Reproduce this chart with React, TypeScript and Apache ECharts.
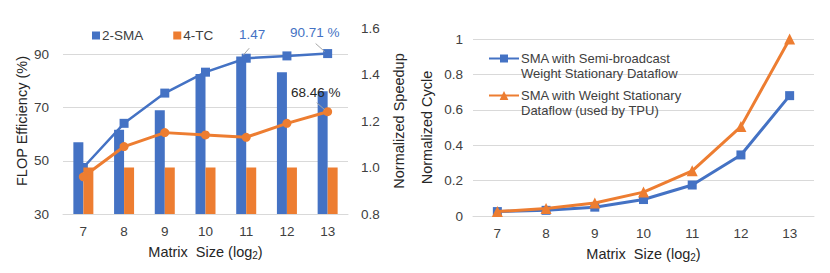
import React, { useEffect, useRef } from "react";
import * as echarts from "echarts";

// ---------- data ----------
const categories = ["7", "8", "9", "10", "11", "12", "13"];
// left chart: FLOP efficiency (%) bars
const smaEfficiency = [57, 61.7, 69, 82.7, 89.3, 83.3, 76.2];
const tcEfficiency = [47.5, 47.5, 47.5, 47.5, 47.5, 47.5, 47.5];
// left chart: normalized speedup lines
const smaSpeedup = [1.0, 1.19, 1.32, 1.41, 1.47, 1.48, 1.49];
const tcSpeedup = [0.96, 1.09, 1.15, 1.14, 1.13, 1.19, 1.24];
const smaAnnotations = ["", "", "", "", "1.47", "", "90.71 %"];
const tcAnnotations = ["", "", "", "", "", "", "68.46 %"];
// right chart: normalized cycle
const semiCycle = [0.025, 0.032, 0.05, 0.093, 0.175, 0.345, 0.68];
const wsCycle = [0.025, 0.042, 0.073, 0.135, 0.255, 0.505, 1.0];

const legendLeft = ["2-SMA", "4-TC"];
const semiName = "SMA with Semi-broadcast\nWeight Stationary Dataflow";
const wsName = "SMA with Weight Stationary\nDataflow (used by TPU)";

// ---------- styles ----------
const BLUE = "#4472C4";
const ORANGE = "#ED7D31";
const GRID = "#D9D9D9";
const TXT = "#404040";
const NAME = "#262626";
const LEADER = "#A6A6A6";
const FONT = "'Liberation Sans', Arial, sans-serif";
// label offsets (pixels) relative to default "top" placement
const smaLabelShift = [
  [0, 0], [0, 0], [0, 0], [0, 0], [6, -7], [0, 0], [-13, -5],
];
const tcLabelShift = [
  [0, 0], [0, 0], [0, 0], [0, 0], [0, 0], [0, 0], [-12, -3],
];
// leader lines (pixel offsets from the annotated point): [x1, y1, x2, y2]
const smaLeader = [null, null, null, null, [-3, -3, 3, -10], null, [-3, -2, -12, -10]];
const tcLeader = [null, null, null, null, null, null, [-3, -2, -11, -9]];

const xName = "Matrix\u00a0 Size (log{sub|2})";
const xNameStyle = {
  fontSize: 14.5,
  color: NAME,
  fontFamily: FONT,
  lineHeight: 17,
  rich: {
    sub: { fontSize: 10, lineHeight: 10, verticalAlign: "bottom", color: NAME, fontFamily: FONT },
  },
};

function labeled(values: number[], texts: string[], color: string) {
  return values.map((v, i) =>
    texts[i]
      ? {
          value: v,
          label: {
            show: true,
            formatter: texts[i],
            color,
            fontSize: 13.5,
            fontFamily: FONT,
            position: "top",
          },
        }
      : v
  );
}

export default function App() {
  const ref = useRef<HTMLDivElement>(null);
  useEffect(() => {
    if (!ref.current) return;
    const chart = echarts.init(ref.current, undefined, { renderer: "svg" });
    const tickLabel = { color: TXT, fontSize: 13.5, fontFamily: FONT };
    const option: any = {
      animation: false,
      backgroundColor: "#fff",
      textStyle: { fontFamily: FONT },
      grid: [
        { left: 63, right: 482, top: 28, bottom: 59, outerBoundsMode: "none", containLabel: false },
        { left: 473, right: 16, top: 39, bottom: 57, outerBoundsMode: "none", containLabel: false },
      ],
      legend: [
        {
          data: legendLeft,
          left: 92,
          top: 28.5,
          padding: 0,
          itemWidth: 8,
          itemHeight: 8,
          itemGap: 30,
          icon: "rect",
          textStyle: { color: TXT, fontSize: 13.5, fontFamily: FONT, padding: [0, 0, 0, -3] },
        },
        {
          data: [semiName],
          left: 488,
          top: 36,
          padding: 0,
          itemWidth: 30,
          itemHeight: 10,
          formatter: (n: string) => " \n" + n,
          textStyle: { color: TXT, fontSize: 13, lineHeight: 15, fontFamily: FONT, padding: [0, 0, 0, -3] },
        },
        {
          data: [wsName],
          left: 488,
          top: 73,
          padding: 0,
          itemWidth: 30,
          itemHeight: 11,
          formatter: (n: string) => " \n" + n,
          textStyle: { color: TXT, fontSize: 13, lineHeight: 15, fontFamily: FONT, padding: [0, 0, 0, -3] },
        },
      ],
      xAxis: [
        {
          type: "category",
          gridIndex: 0,
          data: categories,
          axisLine: { show: true, lineStyle: { color: GRID, width: 1 } },
          axisTick: { show: false },
          axisLabel: { ...tickLabel, margin: 10 },
          name: xName,
          nameLocation: "middle",
          nameGap: 29,
          nameMoveOverlap: false,
          nameTextStyle: xNameStyle,
        },
        {
          type: "category",
          gridIndex: 1,
          data: categories,
          axisLine: { show: true, lineStyle: { color: GRID, width: 1 } },
          axisTick: { show: false },
          axisLabel: { ...tickLabel, margin: 10 },
          name: xName,
          nameLocation: "middle",
          nameGap: 29,
          nameMoveOverlap: false,
          nameTextStyle: xNameStyle,
        },
      ],
      yAxis: [
        {
          type: "value",
          gridIndex: 0,
          min: 30,
          max: 100,
          interval: 20,
          axisLine: { show: false },
          axisTick: { show: false },
          axisLabel: { ...tickLabel, margin: 14, showMaxLabel: false },
          splitLine: {
            show: true,
            showMaxLine: false,
            lineStyle: { color: [GRID, GRID, GRID, GRID, "rgba(0,0,0,0)"], width: 1 },
          },
          name: "FLOP Efficiency (%)",
          nameLocation: "middle",
          nameGap: 34,
          nameMoveOverlap: false,
          nameTextStyle: { fontSize: 14.5, color: NAME, fontFamily: FONT },
        },
        {
          type: "value",
          gridIndex: 0,
          position: "right",
          min: 0.8,
          max: 1.6,
          interval: 0.2,
          axisLine: { show: false },
          axisTick: { show: false },
          axisLabel: { ...tickLabel, margin: 13, formatter: (v: number) => v.toFixed(1) },
          splitLine: { show: false },
          name: "Normalized Speedup",
          nameLocation: "middle",
          nameGap: 43,
          nameMoveOverlap: false,
          nameTextStyle: { fontSize: 14.5, color: NAME, fontFamily: FONT },
        },
        {
          type: "value",
          gridIndex: 1,
          min: 0,
          max: 1,
          interval: 0.2,
          axisLine: { show: false },
          axisTick: { show: false },
          axisLabel: { ...tickLabel, margin: 10 },
          splitLine: { show: true, lineStyle: { color: GRID, width: 1 } },
          name: "Normalized Cycle",
          nameLocation: "middle",
          nameGap: 39,
          nameMoveOverlap: false,
          nameTextStyle: { fontSize: 14.5, color: NAME, fontFamily: FONT },
        },
      ],
      series: [
        {
          type: "line",
          name: "2-SMA speedup",
          xAxisIndex: 0,
          yAxisIndex: 1,
          data: labeled(smaSpeedup, smaAnnotations, BLUE),
          symbol: "rect",
          symbolSize: 9,
          lineStyle: { color: BLUE, width: 2.5 },
          itemStyle: { color: BLUE },
          z: 1,
          labelLayout: (p: any) => ({ dx: smaLabelShift[p.dataIndex][0], dy: smaLabelShift[p.dataIndex][1] }),
        },
        {
          type: "bar",
          name: "2-SMA",
          xAxisIndex: 0,
          yAxisIndex: 0,
          data: smaEfficiency,
          barWidth: 10,
          barGap: "0%",
          itemStyle: { color: BLUE },
          z: 2,
        },
        {
          type: "bar",
          name: "4-TC",
          xAxisIndex: 0,
          yAxisIndex: 0,
          data: tcEfficiency,
          barWidth: 10,
          barGap: "0%",
          itemStyle: { color: ORANGE },
          z: 2,
        },
        {
          type: "line",
          name: "4-TC speedup",
          xAxisIndex: 0,
          yAxisIndex: 1,
          data: labeled(tcSpeedup, tcAnnotations, "#262626"),
          symbol: "circle",
          symbolSize: 9,
          lineStyle: { color: ORANGE, width: 3 },
          itemStyle: { color: ORANGE },
          z: 3,
          labelLayout: (p: any) => ({ dx: tcLabelShift[p.dataIndex][0], dy: tcLabelShift[p.dataIndex][1] }),
        },
        {
          type: "line",
          name: semiName,
          xAxisIndex: 1,
          yAxisIndex: 2,
          data: semiCycle,
          symbol: "rect",
          symbolSize: 9,
          lineStyle: { color: BLUE, width: 3 },
          itemStyle: { color: BLUE },
          z: 2,
        },
        {
          type: "line",
          name: wsName,
          xAxisIndex: 1,
          yAxisIndex: 2,
          data: wsCycle,
          symbol: "triangle",
          symbolSize: 11,
          lineStyle: { color: ORANGE, width: 3 },
          itemStyle: { color: ORANGE },
          z: 3,
        },
      ],
    };
    chart.setOption(option);

    // leader lines for the annotations, anchored at points located by the chart's own scales
    const leaders: any[] = [];
    const addLeaders = (seriesIndex: number, values: number[], specs: any[]) => {
      specs.forEach((s, i) => {
        if (!s) return;
        const p = chart.convertToPixel({ seriesIndex }, [i, values[i]]) as number[];
        leaders.push({
          type: "line",
          z: 100,
          shape: { x1: p[0] + s[0], y1: p[1] + s[1], x2: p[0] + s[2], y2: p[1] + s[3] },
          style: { stroke: LEADER, lineWidth: 1 },
        });
      });
    };
    addLeaders(0, smaSpeedup, smaLeader);
    addLeaders(3, tcSpeedup, tcLeader);
    chart.setOption({ graphic: leaders });

    return () => chart.dispose();
  }, []);
  return (
    <div
      ref={ref}
      style={{ position: "fixed", left: 0, top: 0, width: 830, height: 273, background: "#fff" }}
    />
  );
}
